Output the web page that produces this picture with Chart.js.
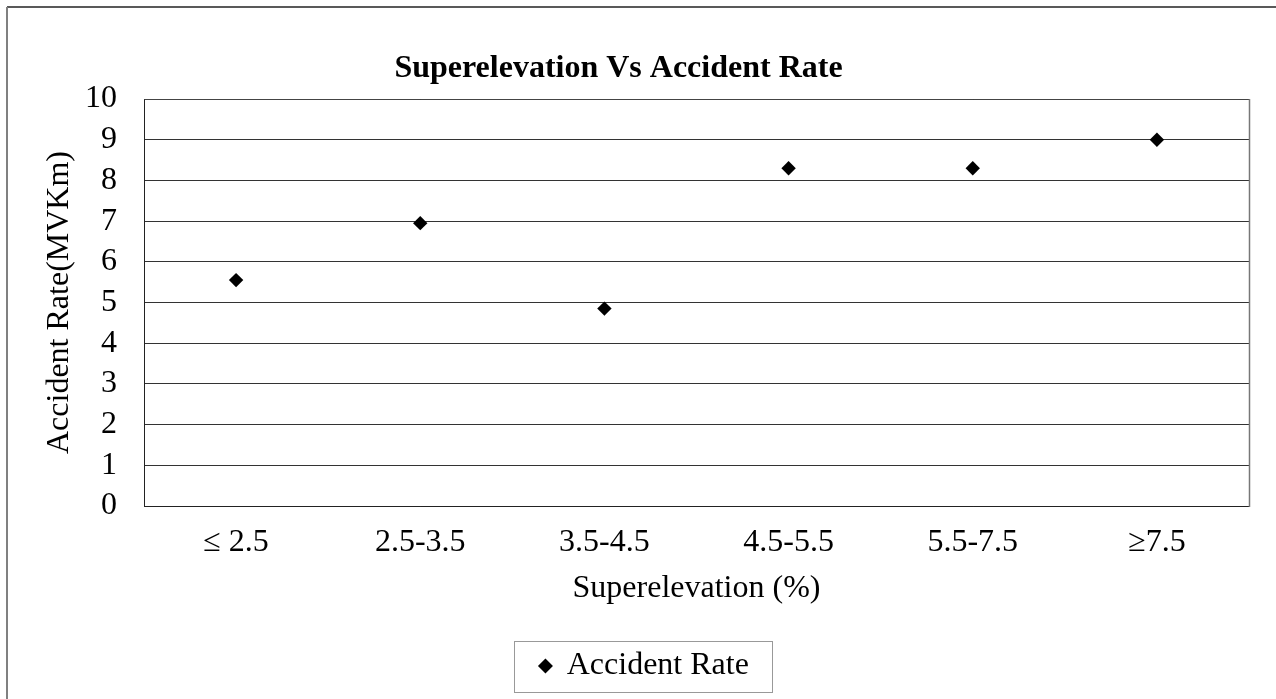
<!DOCTYPE html>
<html><head><meta charset="utf-8">
<script src="https://cdn.jsdelivr.net/npm/chart.js@4.4.0/dist/chart.umd.min.js"></script>
<style>html,body{margin:0;padding:0;background:#fff;overflow:hidden}canvas{display:block}</style>
</head><body>
<canvas id="c" width="1276" height="699"></canvas>
<script>
const categories = ['\u2264 2.5', '2.5-3.5', '3.5-4.5', '4.5-5.5', '5.5-7.5', '\u22657.5'];
const accidentRate = [5.55, 6.95, 4.85, 8.3, 8.3, 9.0];
const yMin = 0, yMax = 10, yStep = 1;
const chartTitle = 'Superelevation Vs Accident Rate';
const xTitle = 'Superelevation (%)';
const yTitle = 'Accident Rate(MVKm)';
const seriesName = 'Accident Rate';

const FF = "'Liberation Serif', 'Times New Roman', serif";
const FS = 32;

const framePlugin = {
  id: 'frame',
  afterLayout(chart) {
    const t = chart.titleBlock;
    if (t) { t.left -= 26; t.right -= 26; }
  },
  beforeDatasetsDraw(chart) {
    const {ctx, chartArea: a} = chart;
    ctx.save();
    ctx.lineWidth = 1;
    ctx.strokeStyle = '#444';
    ctx.beginPath();
    ctx.moveTo(Math.round(a.left) + 0.5, Math.round(a.top) + 0.5);
    ctx.lineTo(Math.round(a.right) + 0.5, Math.round(a.top) + 0.5);
    ctx.stroke();
    ctx.strokeStyle = '#777';
    ctx.lineWidth = 1.5;
    ctx.beginPath();
    ctx.moveTo(Math.round(a.right) + 0.5, Math.round(a.top));
    ctx.lineTo(Math.round(a.right) + 0.5, Math.round(a.bottom) + 1);
    ctx.stroke();
    ctx.restore();
  },
  afterDraw(chart) {
    const {ctx} = chart;
    ctx.save();
    ctx.strokeStyle = '#222';
    ctx.lineWidth = 1.5;
    ctx.beginPath();
    ctx.moveTo(7, 7); ctx.lineTo(chart.width, 7);
    ctx.stroke();
    ctx.strokeStyle = '#808080';
    ctx.lineWidth = 2;
    ctx.beginPath();
    ctx.moveTo(7, 7); ctx.lineTo(7, chart.height);
    ctx.stroke();
    const lg = chart.legend;
    if (lg && lg.legendHitBoxes && lg.legendHitBoxes.length) {
      const hb = lg.legendHitBoxes[0];
      const cy = hb.top + hb.height / 2;
      ctx.strokeStyle = '#999';
      ctx.lineWidth = 1;
      ctx.strokeRect(Math.round(hb.left - 26) + 0.5, Math.round(cy - 25.5) + 0.5,
                     Math.round(hb.width + 49), 51);
    }
    ctx.restore();
  }
};

new Chart(document.getElementById('c'), {
  type: 'line',
  data: {
    labels: categories,
    datasets: [{
      label: seriesName,
      data: accidentRate,
      showLine: false,
      pointStyle: 'rectRot',
      pointRadius: 7.2,
      pointHoverRadius: 7.2,
      backgroundColor: '#000',
      borderColor: '#000',
      pointBackgroundColor: '#000',
      pointBorderColor: '#000',
      pointBorderWidth: 0
    }]
  },
  options: {
    responsive: false,
    animation: false,
    devicePixelRatio: 1,
    layout: { padding: { left: 40, right: 27, top: 40, bottom: 7 } },
    plugins: {
      title: {
        display: true,
        text: chartTitle,
        color: '#000',
        font: { family: FF, size: 32, weight: 'bold' },
        padding: { top: 9.8, bottom: 10.8 }
      },
      legend: {
        display: true,
        position: 'bottom',
        labels: {
          usePointStyle: true,
          pointStyle: 'rectRot',
          boxWidth: 10.6,
          boxHeight: 10.6,
          color: '#000',
          padding: 10,
          font: { family: FF, size: FS }
        }
      },
      tooltip: { enabled: false }
    },
    scales: {
      x: {
        type: 'category',
        offset: true,
        grid: { display: false, drawTicks: false },
        border: { display: true, color: '#222', width: 1 },
        ticks: { color: '#000', padding: 17.8, font: { family: FF, size: FS }, maxRotation: 0, autoSkip: false },
        title: { display: true, text: xTitle, color: '#000', font: { family: FF, size: FS }, padding: { top: 0, bottom: 31.8 } },
        afterFit(s) { s.height = 134; }
      },
      y: {
        min: yMin, max: yMax,
        grid: { color: '#333', lineWidth: 1, drawTicks: false },
        border: { display: true, color: '#222', width: 1 },
        ticks: { stepSize: yStep, autoSkip: false, color: '#000', padding: 27, font: { family: FF, size: FS } },
        title: { display: true, text: yTitle, color: '#000', font: { family: FF, size: FS }, padding: { top: 0.8, bottom: 0 } },
        afterFit(s) { s.width = 104; }
      }
    }
  },
  plugins: [framePlugin]
});
</script>
</body></html>
